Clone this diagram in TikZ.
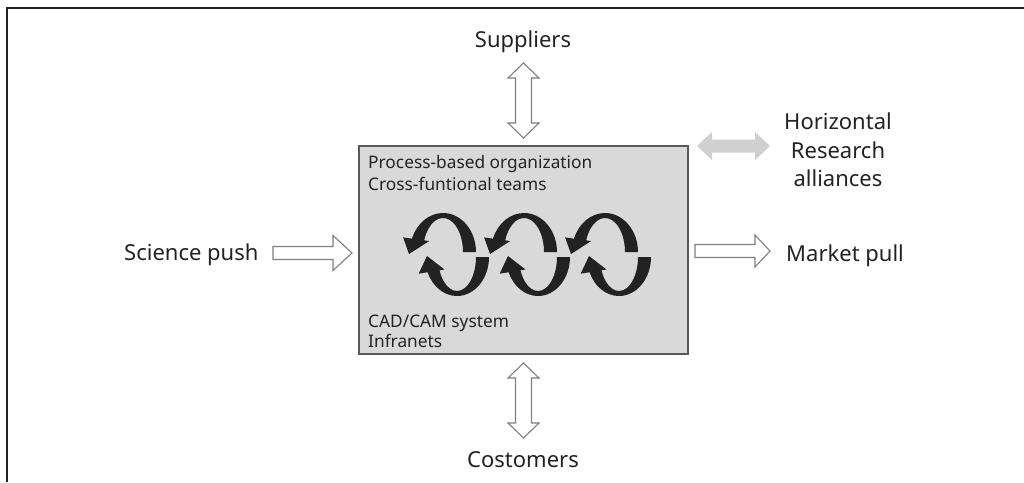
\documentclass[tikz,border=0pt]{standalone}
\usepackage{fontspec}
\setmainfont{Noto Sans}
\definecolor{ink}{HTML}{222222}
\definecolor{boxfill}{HTML}{D9D9D9}
\definecolor{boxedge}{HTML}{595959}
\definecolor{arrowgray}{HTML}{7F7F7F}
\definecolor{allygray}{HTML}{D0D0D0}
\begin{document}
\begin{tikzpicture}[x=1pt,y=-1pt,
  label22/.style={font=\fontsize{22}{26}\selectfont, text=ink, inner sep=0pt, anchor=base},
  inbox/.style={font=\fontsize{17.3}{20}\selectfont, text=ink, inner sep=0pt, anchor=base west},
  hollow/.style={draw=arrowgray, line width=1.1pt, fill=white, line join=miter},
  toploop/.pic={
    \fill[ink] (33,0) arc[start angle=0,end angle=-160,x radius=33,y radius=39]
      -- (-39.9,-14.6) -- (-34,2) -- (-13.84,-10.93) -- (-18.79,-11.63)
      arc[start angle=-160,end angle=0,x radius=20,y radius=34] -- cycle;},
  botloop/.pic={
    \fill[ink] (32,0) arc[start angle=0,end angle=157,x radius=32,y radius=39]
      -- (-38.34,16.7) -- (-30,-1) -- (-12.56,12.47) -- (-17.49,13.28)
      arc[start angle=157,end angle=0,x radius=19,y radius=34] -- cycle;}
]
\useasboundingbox (0,0) rectangle (1024,482);

% outer frame (top and left edges)
\draw[ink, line width=1.6pt] (7,482) -- (7,8) -- (1024,8);

% central organisation box
\node[draw=boxedge, fill=boxfill, line width=1.4pt, minimum width=329pt,
      minimum height=208pt, inner sep=0pt] (org) at (523.5,250) {};
\node[inbox] (proc)  at (368,168) {Process-based organization};
\node[inbox] (cross) at (368,190) {Cross-funtional teams};
\node[inbox] (cad)   at (368,327) {CAD/CAM system};
\node[inbox] (infra) at (368,347) {Infranets};

% iterative cycles
\foreach \i in {0,1,2} {
  \pic (top\i) at ({443+81*\i},252) {toploop};
  \pic (bot\i) at ({457+81*\i},257) {botloop};
}

% outside labels
\node[label22] (supp) at (523,47)  {Suppliers};
\node[label22] (cost) at (523,467) {Costomers};
\node[label22, anchor=base west] (push) at (124,260) {Science push};
\node[label22, anchor=base west] (pull) at (786,261) {Market pull};
\node[label22] (hor1) at (838,129) {Horizontal};
\node[label22] (hor2) at (838,158) {Research};
\node[label22] (hor3) at (838,186) {alliances};

% block arrows
\coordinate (supA) at (523.5,63);
\coordinate (supB) at (523.5,138);
\draw[hollow] (supA) -- ++(15.5,15) -- ++(-7.5,0) -- ++(0,45) -- ++(7.5,0) -- (supB)
  -- ++(-15.5,-15) -- ++(7.5,0) -- ++(0,-45) -- ++(-7.5,0) -- cycle;

\coordinate (cosA) at (523.5,363);
\coordinate (cosB) at (523.5,438);
\draw[hollow] (cosA) -- ++(15.5,15) -- ++(-7.5,0) -- ++(0,45) -- ++(7.5,0) -- (cosB)
  -- ++(-15.5,-15) -- ++(7.5,0) -- ++(0,-45) -- ++(-7.5,0) -- cycle;

\coordinate (spTail) at (273,253);
\coordinate (spTip)  at (352,253);
\draw[hollow] (spTail) ++(0,-6.5) -- ++(60,0) -- ++(0,-11) -- (spTip)
  -- ++(-19,17.5) -- ++(0,-11) -- ++(-60,0) -- cycle;

\coordinate (mpTail) at (695,251);
\coordinate (mpTip)  at (770,251);
\draw[hollow] (mpTail) ++(0,-6.5) -- ++(60,0) -- ++(0,-9.5) -- (mpTip)
  -- ++(-15,16) -- ++(0,-9.5) -- ++(-60,0) -- cycle;

\coordinate (haL) at (697,146);
\coordinate (haR) at (770,146);
\fill[allygray] (haL) -- ++(15,-14) -- ++(0,7.5) -- ++(43,0) -- ++(0,-7.5) -- (haR)
  -- ++(-15,14) -- ++(0,-7.5) -- ++(-43,0) -- ++(0,7.5) -- cycle;
\end{tikzpicture}
\end{document}
